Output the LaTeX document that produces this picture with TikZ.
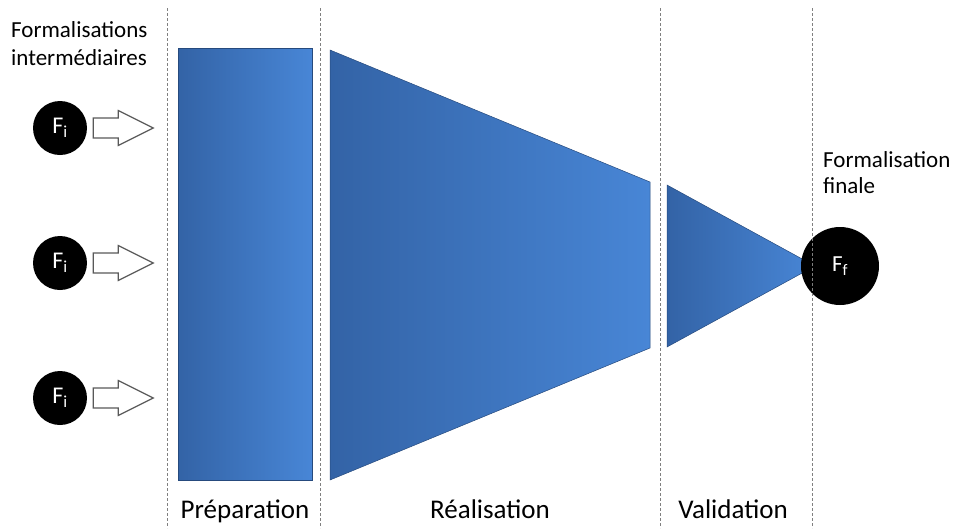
\documentclass[tikz,border=0pt]{standalone}
\usepackage{fontspec}
\setmainfont{Carlito}
\usepackage{tikz}
\usetikzlibrary{positioning,calc}
\definecolor{phasedark}{HTML}{3363A6}
\definecolor{phaselight}{HTML}{4886D6}
\definecolor{guidegray}{HTML}{808080}

\begin{document}
\begin{tikzpicture}[x=1pt,y=-1pt,
  phase/.style={left color=phasedark,right color=phaselight,draw=phasedark!75!black,line width=0.5pt},
  formal/.style={circle,fill=black,text=white,inner sep=0pt},
  hollow/.style={draw=black!65,fill=white,line width=1.2pt,line join=miter},
  sepline/.style={draw=guidegray,dash pattern=on 3pt off 2pt,line width=0.6pt},
  phasename/.style={anchor=base,font=\fontsize{27}{30}\selectfont}]
\useasboundingbox (0,0) rectangle (954,528);
\node[anchor=north west,align=left,inner sep=0pt,font=\fontsize{23}{28}\selectfont] (inter) at (11,21) {Formalisations\\intermédiaires};
% formalisations intermediaires
\foreach \i/\y in {1/128,2/263,3/398} {
  \node[formal,minimum size=54pt,font=\fontsize{24}{24}\selectfont] (fi\i) at (60,\y) {F\textsubscript{i}};
  \draw[hollow,shift={(fi\i.east)}] (6,-10) -- (31,-10) -- (31,-17.5) -- (66,0) -- (31,17.5) -- (31,10) -- (6,10) -- cycle;
}
% phases
\path[phase] (178,48) rectangle (312,480);
\path[phase] (330,50) -- (650,182) -- (650,348) -- (330,480) -- cycle;
\path[phase] (667,185) -- (815,266) -- (667,347) -- cycle;
\node[formal,minimum size=78pt,font=\fontsize{23}{23}\selectfont] (ff) at (840,266) {F\textsubscript{f}};
\node[anchor=north west,align=left,inner sep=0pt,font=\fontsize{23}{26}\selectfont] (finale) at (823,151) {Formalisation\\finale};
\node[phasename] (prep) at (245,518) {Préparation};
\node[phasename] (real) at (490,518) {Réalisation};
\node[phasename] (valid) at (733,518) {Validation};
\foreach \x in {167,320,660,812}
  \draw[sepline] (\x,8) -- (\x,528);
\end{tikzpicture}
\end{document}
